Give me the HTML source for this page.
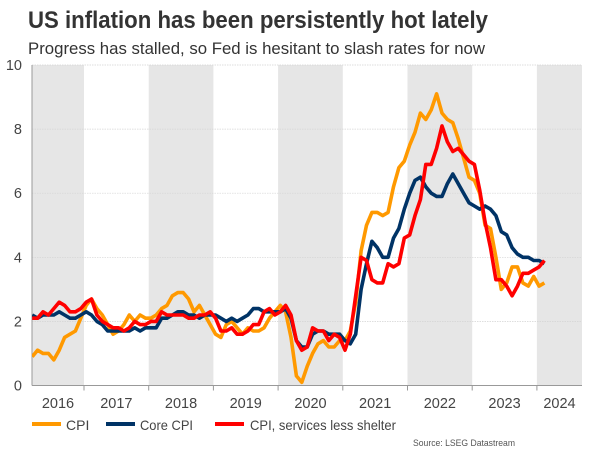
<!DOCTYPE html>
<html><head><meta charset="utf-8"><style>
body{margin:0;background:#fff;font-family:"Liberation Sans",Arial,sans-serif}
svg text{font-family:"Liberation Sans",Arial,sans-serif}
</style></head><body>
<svg id="chart" width="600" height="450" xmlns="http://www.w3.org/2000/svg">
<text x="28" y="28" font-size="24.5" font-weight="bold" fill="#333" textLength="460" lengthAdjust="spacingAndGlyphs">US inflation has been persistently hot lately</text>
<text x="28" y="54" font-size="16.5" fill="#333" textLength="457" lengthAdjust="spacingAndGlyphs">Progress has stalled, so Fed is hesitant to slash rates for now</text>
<g id="bands"></g>
<g id="grid"></g>
<g id="axes"></g>
<g id="series"></g>
<g>
<line x1="32" y1="424" x2="61" y2="424" stroke="#FF9900" stroke-width="4"/>
<text x="66" y="430" font-size="14" fill="#444">CPI</text>
<line x1="106" y1="424" x2="135" y2="424" stroke="#003366" stroke-width="4"/>
<text x="140" y="430" font-size="14" fill="#444" textLength="53" lengthAdjust="spacingAndGlyphs">Core CPI</text>
<line x1="215" y1="424" x2="244" y2="424" stroke="#FF0000" stroke-width="4"/>
<text x="250" y="430" font-size="14" fill="#444" textLength="146" lengthAdjust="spacingAndGlyphs">CPI, services less shelter</text>
</g>
<text x="515" y="446" font-size="9.5" fill="#555" text-anchor="end" textLength="102" lengthAdjust="spacingAndGlyphs">Source: LSEG Datastream</text>
</svg>
<script>
const years = [2016,2017,2018,2019,2020,2021,2022,2023,2024];
const yTicks = [0,2,4,6,8,10];
const startMonth = 2; // March 2016 (months offset from Jan 2016)
const cpi = [0.9,1.1,1.0,1.0,0.8,1.1,1.5,1.6,1.7,2.1,
 2.5,2.7,2.4,2.2,1.9,1.6,1.7,1.9,2.2,2.0,2.2,2.1,
 2.1,2.2,2.4,2.5,2.8,2.9,2.9,2.7,2.3,2.5,2.2,1.9,
 1.6,1.5,1.9,2.0,1.8,1.6,1.8,1.7,1.7,1.8,2.1,2.3,
 2.5,2.3,1.5,0.3,0.1,0.6,1.0,1.3,1.4,1.2,1.2,1.4,
 1.4,1.7,2.6,4.2,5.0,5.4,5.4,5.3,5.4,6.2,6.8,7.0,
 7.5,7.9,8.5,8.3,8.6,9.1,8.5,8.3,8.2,7.7,7.1,6.5,
 6.4,6.0,5.0,4.9,4.0,3.0,3.2,3.7,3.7,3.2,3.1,3.4,
 3.1,3.2];
const core = [2.2,2.1,2.2,2.2,2.2,2.3,2.2,2.1,2.1,2.2,
 2.3,2.2,2.0,1.9,1.7,1.7,1.7,1.7,1.7,1.8,1.7,1.8,
 1.8,1.8,2.1,2.1,2.2,2.3,2.3,2.2,2.2,2.1,2.2,2.2,
 2.2,2.1,2.0,2.1,2.0,2.1,2.2,2.4,2.4,2.3,2.3,2.3,
 2.3,2.4,2.1,1.4,1.2,1.2,1.6,1.7,1.7,1.6,1.6,1.6,
 1.4,1.3,1.6,3.0,3.8,4.5,4.3,4.0,4.0,4.6,4.9,5.5,
 6.0,6.4,6.5,6.2,6.0,5.9,5.9,6.3,6.6,6.3,6.0,5.7,
 5.6,5.5,5.6,5.5,5.3,4.8,4.7,4.3,4.1,4.0,4.0,3.9,
 3.9,3.8];
const services = [2.1,2.1,2.3,2.2,2.4,2.6,2.5,2.3,2.3,2.4,
 2.6,2.7,2.2,2.0,1.9,1.8,1.8,1.7,1.8,2.0,1.9,1.9,
 2.0,2.0,2.3,2.2,2.2,2.2,2.2,2.1,2.1,2.2,2.2,2.3,
 2.1,1.7,1.7,1.8,1.6,1.6,1.7,1.9,1.9,2.3,2.4,2.2,
 2.3,2.5,2.2,1.4,1.1,1.2,1.8,1.7,1.7,1.4,1.6,1.5,
 1.1,1.6,2.8,4.0,3.9,3.3,3.2,3.2,3.8,3.7,3.8,4.6,
 4.7,5.3,5.8,6.9,6.9,7.4,8.1,7.6,7.3,7.4,7.2,7.0,
 6.9,6.1,5.1,4.3,3.3,3.3,3.1,2.8,3.1,3.5,3.5,3.6,
 3.7,3.9];
const NS='http://www.w3.org/2000/svg';
const L=32,R=582,T=65,B=385.5;
const yearX0=19.3, yearW=64.7;
function xm(m){return yearX0+(m+0.4)*yearW/12;}
function xy(yr){return yearX0+(yr-2016)*yearW;}
function y(v){return B-(v/10)*(B-T);}
function mk(tag,attrs,parent){const e=document.createElementNS(NS,tag);for(const k in attrs)e.setAttribute(k,attrs[k]);parent.appendChild(e);return e;}
const bands=document.getElementById('bands'),grid=document.getElementById('grid'),axes=document.getElementById('axes'),series=document.getElementById('series');
years.forEach((yr,i)=>{
 const a=Math.max(L,xy(yr)),b=Math.min(R,xy(yr+1));
 if(i%2===0){const r=mk('rect',{x:a,y:T,width:b-a,height:B-T,fill:'#e6e6e6'},bands);
  
  }
 const t=mk('text',{x:(a+b)/2,y:408,'font-size':14.5,fill:'#444','text-anchor':'middle'},axes);
 t.textContent=yr;
 
 
 if(i>0){const tk=mk('line',{x1:xy(yr),x2:xy(yr),y1:B,y2:B+5,stroke:'#999'},axes);
  
  }
});
yTicks.forEach(v=>{
 const g=mk('line',{x1:L,x2:R,y1:y(v),y2:y(v),stroke:'#d4d4d4','stroke-dasharray':'1.5,1','stroke-width':0.7},grid);
 
 
 const t=mk('text',{x:22,y:y(v)+5,'font-size':14.5,fill:'#444','text-anchor':'end'},axes);
 t.textContent=v;
 
 
});
const ya=mk('line',{x1:L,x2:L,y1:T,y2:B,stroke:'#999'},axes);


const xa=mk('line',{x1:L,x2:R,y1:B,y2:B,stroke:'#999'},axes);


mk('clipPath',{id:'clip'},document.getElementById('chart')).appendChild(document.createElementNS(NS,'rect'));
const cr=document.querySelector('#clip rect');cr.setAttribute('x',L);cr.setAttribute('y',0);cr.setAttribute('width',R-L);cr.setAttribute('height',450);
function draw(arr,color,name){
 const d=arr.map((v,i)=>(i?'L':'M')+xm(startMonth+i).toFixed(1)+','+y(v).toFixed(1)).join('');
 const p=mk('path',{d:d,fill:'none',stroke:color,'stroke-width':3.6,'stroke-linejoin':'round','clip-path':'url(#clip)'},series);
 
 
}
draw(cpi,'#FF9900','cpi-line');
draw(core,'#003366','core-cpi-line');
draw(services,'#FF0000','services-less-shelter-line');
</script>
</body></html>
